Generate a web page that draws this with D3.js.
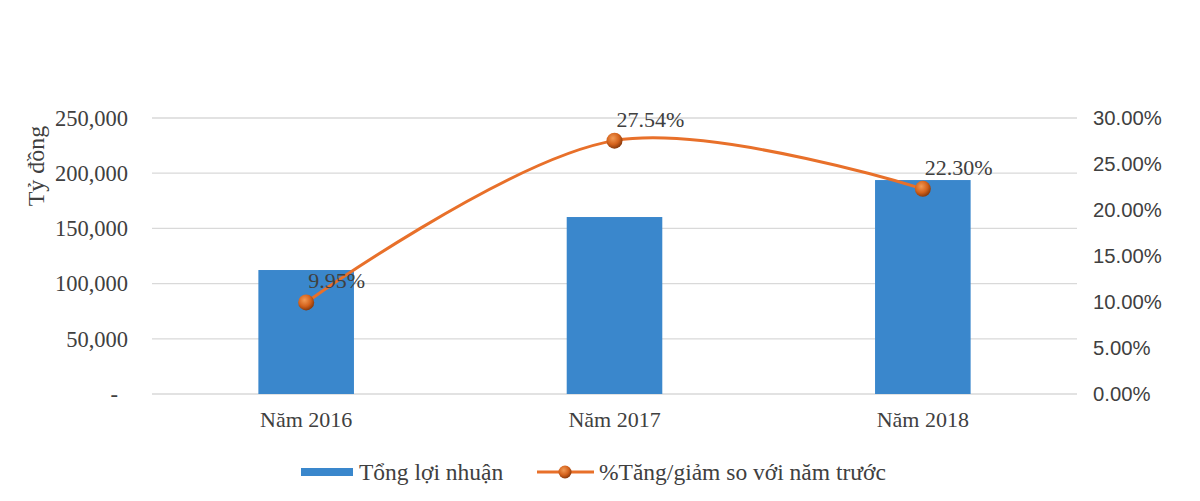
<!DOCTYPE html>
<html>
<head>
<meta charset="utf-8">
<script src="https://cdn.jsdelivr.net/npm/d3@7"></script>
<style>
  html, body { margin: 0; padding: 0; background: #fff; }
  svg { display: block; }
</style>
</head>
<body>
<svg id="chart" width="1200" height="501"></svg>
<script>
const categories = ["Năm 2016", "Năm 2017", "Năm 2018"];
const profitValues = [112300, 160300, 193800];
const growthValues = [9.95, 27.54, 22.30];
const growthLabels = ["9.95%", "27.54%", "22.30%"];
const leftTicks = [0, 50000, 100000, 150000, 200000, 250000];
const rightTicks = [0, 5, 10, 15, 20, 25, 30];
const barSeriesName = "Tổng lợi nhuận";
const lineSeriesName = "%Tăng/giảm so với năm trước";
const yAxisTitle = "Tỷ đồng";

const svg = d3.select("#chart");
const margin = { left: 152, right: 123, top: 118, bottom: 107 };
const W = 1200, H = 501;
const plotW = W - margin.left - margin.right;
const plotH = H - margin.top - margin.bottom;

const serif = "'Liberation Serif', 'Times New Roman', serif";
const sans = "'Liberation Sans', Arial, sans-serif";
const textColor = "#404040";

const g = svg.append("g").attr("transform", `translate(${margin.left},${margin.top})`);

const x = d3.scaleBand().domain(categories).range([0, plotW]).paddingInner(0.69).paddingOuter(0.345);
const yL = d3.scaleLinear().domain([0, 250000]).range([plotH, 0]);
const yR = d3.scaleLinear().domain([0, 30]).range([plotH, 0]);

// gridlines
g.append("g").selectAll("line").data(leftTicks).join("line")
  .attr("x1", 0).attr("x2", plotW)
  .attr("y1", d => yL(d)).attr("y2", d => yL(d))
  .attr("stroke", "#d9d9d9").attr("stroke-width", 1.3);

// left axis
const fmtL = d => d === 0 ? "-" : d3.format(",")(d);
const leftAxis = g.append("g").call(d3.axisLeft(yL).tickValues(leftTicks).tickFormat(fmtL).tickSize(0).tickPadding(24));
leftAxis.select(".domain").remove();
leftAxis.selectAll("text").attr("font-family", serif).attr("font-size", 22.5).attr("fill", textColor)
  .attr("dx", d => d === 0 ? -10 : 0);

// right axis
const rightAxis = g.append("g").attr("transform", `translate(${plotW},0)`)
  .call(d3.axisRight(yR).tickValues(rightTicks).tickFormat(d => d3.format(".2f")(d) + "%").tickSize(0).tickPadding(16));
rightAxis.select(".domain").remove();
rightAxis.selectAll("text").attr("font-family", sans).attr("font-size", 20.3).attr("fill", textColor);

// x axis labels
const xAxis = g.append("g").attr("transform", `translate(0,${plotH})`)
  .call(d3.axisBottom(x).tickSize(0).tickPadding(17));
xAxis.select(".domain").remove();
xAxis.selectAll("text").attr("font-family", serif).attr("font-size", 22).attr("fill", textColor);

// bars
g.append("g").selectAll("rect").data(categories).join("rect")
  .attr("x", d => x(d))
  .attr("width", x.bandwidth())
  .attr("y", (d, i) => yL(profitValues[i]))
  .attr("height", (d, i) => plotH - yL(profitValues[i]))
  .attr("fill", "#3a87cc");

// line
const cx = d => x(d) + x.bandwidth() / 2;
const line = d3.line().x((d, i) => cx(categories[i])).y(d => yR(d)).curve(d3.curveCatmullRom.alpha(0.5));
g.append("path").datum(growthValues).attr("d", line)
  .attr("fill", "none").attr("stroke", "#e8702a").attr("stroke-width", 3);

// markers
const grad = svg.append("defs").append("radialGradient").attr("id", "mk").attr("cx", "40%").attr("cy", "35%").attr("r", "65%");
grad.append("stop").attr("offset", "0%").attr("stop-color", "#f29a55");
grad.append("stop").attr("offset", "60%").attr("stop-color", "#d4621c");
grad.append("stop").attr("offset", "100%").attr("stop-color", "#8a3a0c");
g.append("g").selectAll("circle").data(growthValues).join("circle")
  .attr("cx", (d, i) => cx(categories[i])).attr("cy", d => yR(d)).attr("r", 8)
  .attr("fill", "url(#mk)");

// data labels
g.append("g").selectAll("text").data(growthValues).join("text")
  .attr("x", (d, i) => cx(categories[i]) + 2)
  .attr("y", d => yR(d) - 14)
  .attr("text-anchor", "start")
  .attr("font-family", serif).attr("font-size", 22).attr("fill", textColor)
  .text((d, i) => growthLabels[i]);

// y axis title
svg.append("text")
  .attr("transform", "translate(44,166) rotate(-90)")
  .attr("text-anchor", "middle")
  .attr("font-family", serif).attr("font-size", 24).attr("fill", textColor)
  .text(yAxisTitle);

// legend
const lg = svg.append("g").attr("transform", "translate(0,472)");
lg.append("rect").attr("x", 301).attr("y", -4).attr("width", 52).attr("height", 8).attr("fill", "#3a87cc");
lg.append("text").attr("x", 359).attr("y", 8).attr("font-family", serif).attr("font-size", 23.5).attr("fill", textColor).text(barSeriesName);
lg.append("line").attr("x1", 537).attr("x2", 594).attr("y1", 0).attr("y2", 0).attr("stroke", "#e8702a").attr("stroke-width", 3);
lg.append("circle").attr("cx", 565).attr("cy", 0).attr("r", 6.5).attr("fill", "url(#mk)");
lg.append("text").attr("x", 599).attr("y", 8).attr("font-family", serif).attr("font-size", 23.5).attr("fill", textColor).text(lineSeriesName);
</script>
</body>
</html>
